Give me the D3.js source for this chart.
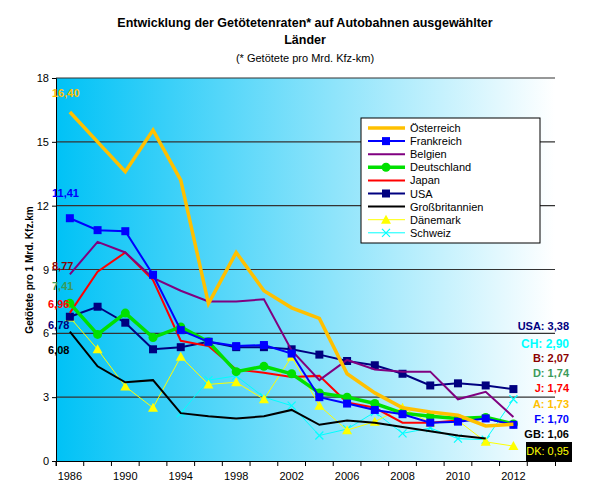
<!DOCTYPE html>
<html><head><meta charset="utf-8">
<script src="https://cdn.jsdelivr.net/npm/d3@7"></script>
<style>body{margin:0;background:#fff;font-family:Arial,"Liberation Sans",sans-serif}</style>
</head><body><svg id="c" width="598" height="498"></svg>
<script>
const categories=["1986","1988","1990","1992","1994","1996","1998","2000","2002","2004","2006","2007","2008","2009","2010","2011","2012",""];
const tickLabels=["1986","1990","1994","1998","2002","2006","2008","2010","2012"];
const yTicks=[0,3,6,9,12,15,18];
const oesterreich=[16.40,15.0,13.6,15.55,13.2,7.4,9.8,8.0,7.2,6.7,4.1,3.2,2.5,2.3,2.15,1.65,1.73];
const frankreich=[11.41,10.85,10.8,8.75,6.15,5.6,5.4,5.45,5.05,3.0,2.7,2.4,2.2,1.8,1.85,2.0,1.70];
const belgien=[8.77,10.3,9.8,8.6,8.0,7.5,7.5,7.6,5.2,3.8,4.75,4.3,4.2,4.2,2.9,3.25,2.07];
const deutschland=[7.41,5.95,6.95,5.8,6.3,5.6,4.2,4.45,4.1,3.2,3.0,2.7,2.25,2.1,2.0,2.05,1.74];
const japan=[6.96,8.9,9.8,8.5,5.65,5.4,4.3,4.15,3.95,4.0,2.75,2.5,1.8,1.8,1.9,2.0,1.74];
const usa=[6.78,7.25,6.5,5.25,5.35,5.6,5.35,5.35,5.25,5.0,4.7,4.5,4.1,3.55,3.65,3.55,3.38];
const gb=[6.08,4.45,3.7,3.8,2.25,2.1,2.0,2.1,2.4,1.7,1.9,1.8,1.6,1.4,1.2,1.06,null];
const daenemark=[6.75,5.25,3.5,2.5,4.9,3.6,3.7,2.9,4.9,2.6,1.45,1.85,2.5,1.8,1.9,0.9,0.7];
const schweiz=[null,null,null,null,2.25,3.8,4.0,3.0,2.6,1.2,1.5,2.3,1.3,1.55,1.05,1.0,2.9];
const seriesNames=["Österreich","Frankreich","Belgien","Deutschland","Japan","USA","Großbritannien","Dänemark","Schweiz"];
const leftLabels=["16,40","11,41","8,77","7,41","6,96","6,78","6,08"];
const rightLabels=["USA: 3,38","CH: 2,90","B: 2,07","D: 1,74","J: 1,74","A: 1,73","F: 1,70","GB: 1,06","DK: 0,95"];

const svg=d3.select("#c");
const L=56,R=555,T=78,B=461;
const x=d3.scaleBand().domain(categories.map((c,i)=>i)).range([L,R]);
const y=d3.scaleLinear().domain([0,18]).range([B,T]);
const cx=i=>x(i)+x.bandwidth()/2;
const defs=svg.append("defs");
const g=defs.append("linearGradient").attr("id","bg");
g.append("stop").attr("offset","0").attr("stop-color","#00c2f6");
g.append("stop").attr("offset","1").attr("stop-color","#ffffff");
svg.append("rect").attr("x",L).attr("y",T).attr("width",R-L).attr("height",B-T).attr("fill","url(#bg)");
yTicks.forEach(t=>{ if(t>0) svg.append("line").attr("x1",L).attr("x2",R).attr("y1",y(t)).attr("y2",y(t)).attr("stroke","#333").attr("stroke-width",1.2);});
const ya=svg.append("g").attr("transform",`translate(${L},0)`).call(d3.axisLeft(y).tickValues(yTicks).tickSize(4));
ya.selectAll("text").attr("font-size",11).attr("font-family","Arial");
ya.select(".domain").attr("stroke","#000");
const xa=svg.append("g").attr("transform",`translate(0,${B})`).call(d3.axisBottom(x).tickSize(5).tickFormat(i=>tickLabels.includes(categories[i])&&[0,2,4,6,8,10,12,14,16].includes(+i)?categories[i]:""));
xa.selectAll(".tick line").attr("transform",`translate(${-x.bandwidth()/2},0)`);
xa.selectAll("text").attr("font-size",11).attr("font-family","Arial").attr("dy","1em");

const specs=[
 {d:oesterreich,c:"#ffc000",w:3.5,m:null},
 {d:frankreich,c:"#0000ff",w:2,m:"sq"},
 {d:belgien,c:"#800080",w:2,m:null},
 {d:deutschland,c:"#00e000",w:3.5,m:"ci"},
 {d:japan,c:"#ff0000",w:2,m:null},
 {d:usa,c:"#000080",w:2,m:"sq"},
 {d:gb,c:"#000000",w:2,m:null},
 {d:daenemark,c:"#ffff00",w:1,m:"tr"},
 {d:schweiz,c:"#00ffff",w:1,m:"x"}];
const line=d3.line().defined(v=>v!=null).x((v,i)=>cx(i)).y(v=>y(v));
function mark(sel,s,px,py){
 if(s.m==="sq") sel.append("rect").attr("x",px-4).attr("y",py-4).attr("width",8).attr("height",8).attr("fill",s.c);
 if(s.m==="ci") sel.append("circle").attr("cx",px).attr("cy",py).attr("r",4.5).attr("fill",s.c);
 if(s.m==="tr") sel.append("path").attr("d",`M${px},${py-5}L${px+5},${py+4}L${px-5},${py+4}Z`).attr("fill",s.c);
 if(s.m==="x") sel.append("path").attr("d",`M${px-4},${py-4}L${px+4},${py+4}M${px-4},${py+4}L${px+4},${py-4}`).attr("stroke",s.c).attr("stroke-width",1.2);
}
specs.slice().reverse().forEach(s=>{
 svg.append("path").attr("d",line(s.d)).attr("fill","none").attr("stroke",s.c).attr("stroke-width",s.w);
 const gg=svg.append("g");
 s.d.forEach((v,i)=>{if(v!=null&&s.m) mark(gg,s,cx(i),y(v));});
});
// legend
const lg=svg.append("g");
lg.append("rect").attr("x",361).attr("y",118).attr("width",179).attr("height",125).attr("fill","#fff").attr("stroke","#000");
seriesNames.forEach((n,i)=>{
 const yy=128+i*13.1,s=specs[i];
 lg.append("line").attr("x1",368).attr("x2",405).attr("y1",yy).attr("y2",yy).attr("stroke",s.c).attr("stroke-width",s.w);
 if(s.m) mark(lg,s,386,yy);
 lg.append("text").attr("x",410).attr("y",yy+4).attr("font-size",11).text(n);
});
// titles
svg.append("text").attr("x",305).attr("y",27).attr("text-anchor","middle").attr("font-size",12.5).attr("font-weight","bold").text("Entwicklung der Getötetenraten* auf Autobahnen ausgewählter");
svg.append("text").attr("x",305).attr("y",44).attr("text-anchor","middle").attr("font-size",12.5).attr("font-weight","bold").text("Länder");
svg.append("text").attr("x",305).attr("y",62).attr("text-anchor","middle").attr("font-size",11).text("(* Getötete pro Mrd. Kfz-km)");
svg.append("text").attr("transform","translate(33,270) rotate(-90)").attr("text-anchor","middle").attr("font-size",10).attr("font-weight","bold").text("Getötete pro 1 Mrd. Kfz.km");
// left labels
const lc=["#ffc000","#0000ff","#8b0000","#3a9a5a","#ff0000","#000080","#000000"];
const ly=[97,197,270,290,308,329,354];
leftLabels.forEach((t,i)=>svg.append("text").attr("x",i<4?52:48).attr("y",ly[i]).attr("font-size",11).attr("font-weight","bold").attr("fill",lc[i]).text(t));
// right labels
const rc=["#000080","#00ffff","#8b0000","#3a9a5a","#ff0000","#ffc000","#0000ff","#000000","#ffff00"];
const ry=[330,348,362,377,392,408,423,438,455];
svg.append("rect").attr("x",526).attr("y",442).attr("width",46).attr("height",20).attr("fill","#000");
rightLabels.forEach((t,i)=>svg.append("text").attr("x",569).attr("y",ry[i]).attr("text-anchor","end").attr("font-size",i==1?12:11).attr("font-weight",i==8?"normal":"bold").attr("fill",rc[i]).text(t));
</script></body></html>
